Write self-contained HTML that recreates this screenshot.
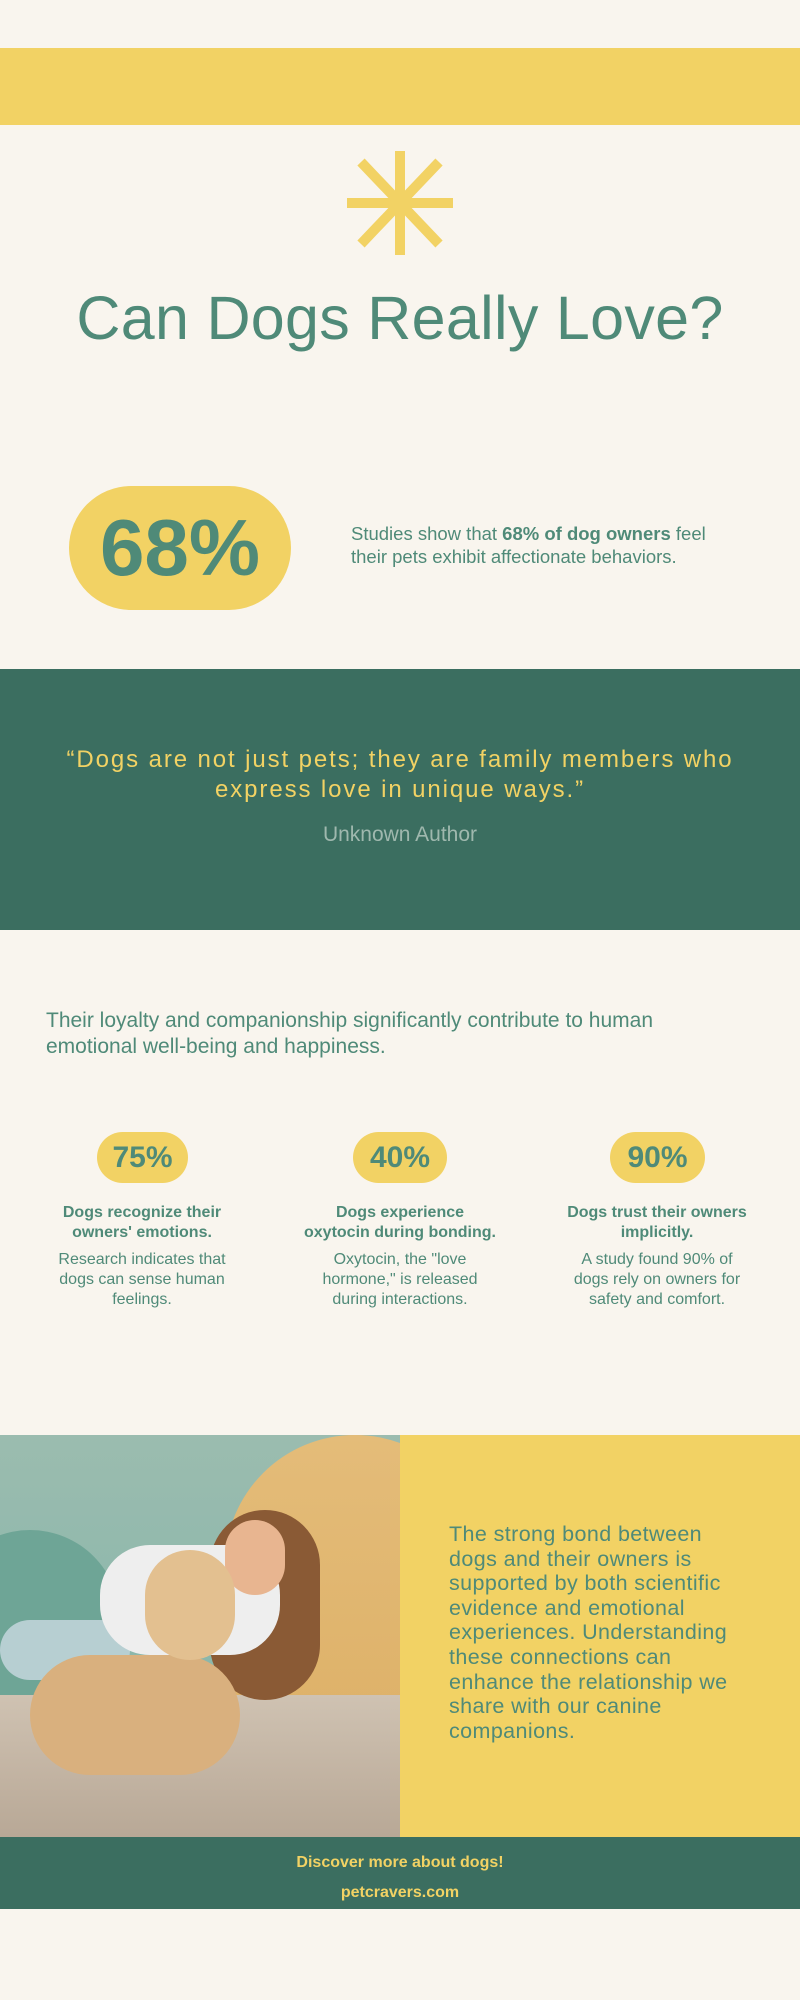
<!DOCTYPE html>
<html><head><meta charset="utf-8"><style>
*{margin:0;padding:0;box-sizing:border-box}
body{width:800px;height:2000px;background:#f9f5ee;position:relative;overflow:hidden;font-family:"Liberation Sans",sans-serif;color:#4f8a78}
.a{position:absolute}
.c{text-align:center}
</style></head><body>
<div class="a" style="left:0;top:48px;width:800px;height:77px;background:#f2d264"></div>
<svg class="a" style="left:347px;top:151px" width="106" height="104" viewBox="0 0 106 104">
<g stroke="#f2d264" stroke-width="10">
<line x1="53" y1="0" x2="53" y2="104"/><line x1="0" y1="52" x2="106" y2="52"/>
<line x1="14" y1="11" x2="92" y2="93"/><line x1="92" y1="11" x2="14" y2="93"/></g></svg>
<div class="a c" style="left:0;top:283px;width:800px;font-size:61px;letter-spacing:0.3px;color:#4f8a78">Can Dogs Really Love?</div>
<div class="a c" style="left:69px;top:486px;width:222px;height:124px;background:#f2d264;border-radius:62px;font-size:80px;font-weight:bold;line-height:124px;color:#4f8a78">68%</div>
<div class="a" style="left:351px;top:522px;width:390px;font-size:18.5px;line-height:23px">Studies show that <b>68% of dog owners</b> feel their pets exhibit affectionate behaviors.</div>
<div class="a" style="left:0;top:669px;width:800px;height:261px;background:#3b6e60"></div>
<div class="a c" style="left:0;top:745px;width:800px;font-size:24px;line-height:30px;color:#f2d264;letter-spacing:1.9px">“Dogs are not just pets; they are family members who<br>express love in unique ways.”</div>
<div class="a c" style="left:0;top:823px;width:800px;font-size:21px;color:#9fb8ae">Unknown Author</div>
<div class="a" style="left:46px;top:1008px;width:700px;font-size:21px;line-height:26px">Their loyalty and companionship significantly contribute to human emotional well-being and happiness.</div>
<div class="a c" style="left:97px;top:1132px;width:91px;height:51px;border-radius:26px;background:#f2d264;font-size:30px;font-weight:bold;line-height:51px">75%</div>
<div class="a c" style="left:353px;top:1132px;width:94px;height:51px;border-radius:26px;background:#f2d264;font-size:30px;font-weight:bold;line-height:51px">40%</div>
<div class="a c" style="left:610px;top:1132px;width:95px;height:51px;border-radius:26px;background:#f2d264;font-size:30px;font-weight:bold;line-height:51px">90%</div>
<div class="a c" style="left:42px;top:1203px;width:200px;font-size:16px;line-height:20px;font-weight:bold">Dogs recognize their owners' emotions.</div>
<div class="a c" style="left:280px;top:1203px;width:240px;font-size:16px;line-height:20px;font-weight:bold;white-space:nowrap">Dogs experience<br>oxytocin during bonding.</div>
<div class="a c" style="left:552px;top:1203px;width:210px;font-size:16px;line-height:20px;font-weight:bold">Dogs trust their owners implicitly.</div>
<div class="a c" style="left:47px;top:1250px;width:190px;font-size:16px;line-height:20px">Research indicates that dogs can sense human feelings.</div>
<div class="a c" style="left:310px;top:1250px;width:180px;font-size:16px;line-height:20px">Oxytocin, the "love hormone," is released during interactions.</div>
<div class="a c" style="left:562px;top:1250px;width:190px;font-size:16px;line-height:20px">A study found 90% of dogs rely on owners for safety and comfort.</div>
<div class="a" style="left:0;top:1435px;width:400px;height:402px;overflow:hidden;background:linear-gradient(180deg,#9bbcaf,#7fb3a8)">
<div class="a" style="left:225px;top:0;width:260px;height:520px;border-radius:130px;background:linear-gradient(180deg,#e4bc79,#d9a95c)"></div>
<div class="a" style="left:-60px;top:95px;width:180px;height:260px;border-radius:90px;background:#6ea596"></div>
<div class="a" style="left:0;top:260px;width:400px;height:142px;background:linear-gradient(180deg,#cfc2b2,#b8a896)"></div>
<div class="a" style="left:0;top:185px;width:130px;height:60px;border-radius:30px;background:#b7cfd2"></div>
<div class="a" style="left:210px;top:75px;width:110px;height:190px;border-radius:55px;background:#8a5a35"></div>
<div class="a" style="left:100px;top:110px;width:180px;height:110px;border-radius:50px;background:#eeeeee"></div>
<div class="a" style="left:225px;top:85px;width:60px;height:75px;border-radius:30px;background:#e8b590"></div>
<div class="a" style="left:30px;top:220px;width:210px;height:120px;border-radius:60px;background:#d9b07e"></div>
<div class="a" style="left:145px;top:115px;width:90px;height:110px;border-radius:45px;background:#e3c090"></div>
</div>
<div class="a" style="left:400px;top:1435px;width:400px;height:402px;background:#f2d264"></div>
<div class="a" style="left:449px;top:1522px;width:300px;font-size:21.5px;line-height:24.6px;letter-spacing:0.4px;color:#4f8a78">The strong bond between dogs and their owners is supported by both scientific evidence and emotional experiences. Understanding these connections can enhance the relationship we share with our canine companions.</div>
<div class="a" style="left:0;top:1837px;width:800px;height:72px;background:#3b6e60"></div>
<div class="a c" style="left:0;top:1854px;width:800px;font-size:16px;font-weight:bold;color:#f2d264">Discover more about dogs!</div>
<div class="a c" style="left:0;top:1884px;width:800px;font-size:16px;font-weight:bold;color:#f2d264">petcravers.com</div>
</body></html>
